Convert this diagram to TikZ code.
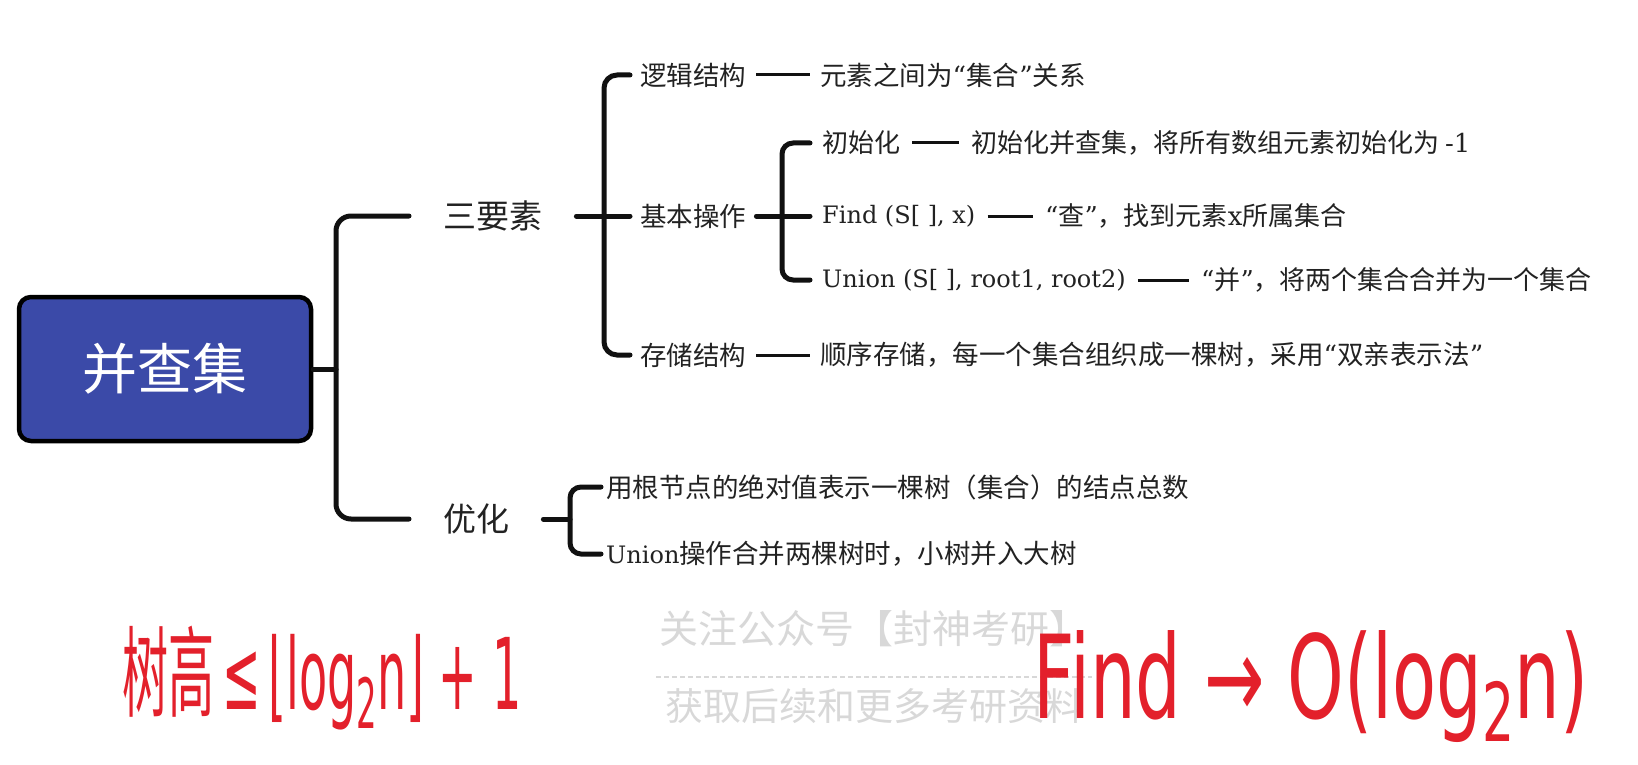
\documentclass[tikz,border=0pt]{standalone}
\usepackage{fontspec}
\setmainfont{Noto Sans CJK SC}
\newfontfamily\cjk{Noto Sans CJK SC}
\newfontfamily\lat{DejaVu Serif}
\newfontfamily\sym{DejaVu Sans}
\newcommand{\myLQ}{{\lat “}}
\newcommand{\myRQ}{{\lat ”}}
\definecolor{rootblue}{HTML}{3B4AA8}
\definecolor{txt}{HTML}{222222}
\definecolor{ln}{HTML}{111111}
\definecolor{hand}{HTML}{E3202B}
\definecolor{wm}{HTML}{D8D8D8}
\tikzset{
  br/.style={line width=5pt, draw=ln, line cap=round},
  tie/.style={line width=3pt, draw=ln},
  rootbox/.style={rectangle, rounded corners=12pt, fill=rootblue, draw=black, line width=4.5pt,
    minimum width=292pt, minimum height=144pt, text=white, font=\fontsize{55}{60}\selectfont},
  lvA/.style={anchor=west, inner xsep=34pt, inner ysep=2pt, text=txt, font=\fontsize{33}{36}\selectfont},
  lvB/.style={anchor=west, inner xsep=10pt, inner ysep=2pt, text=txt, font=\fontsize{26.5}{30}\selectfont},
  lvC/.style={anchor=west, inner xsep=12pt, inner ysep=2pt, text=txt, font=\fontsize{26}{30}\selectfont},
  lvD/.style={anchor=west, inner xsep=5pt, inner ysep=2pt, text=txt, font=\fontsize{26.5}{30}\selectfont},
  hw/.style={inner sep=0pt, text=hand},
  wmtext/.style={inner sep=0pt, text=wm, font=\fontsize{39}{42}\selectfont}
}
\begin{document}
\begin{tikzpicture}[x=1pt,y=-1pt]
\useasboundingbox (0,0) rectangle (1638,765);

% watermark
\node[wmtext] (wm1) at (874,629) {关注公众号【封神考研】};
\coordinate (wmL) at (656,677);
\coordinate (wmR) at (1092,677);
\draw[wm, line width=1.5pt, dash pattern=on 5pt off 3pt] (wmL) -- (wmR);
\node[wmtext, font=\fontsize{38}{42}\selectfont\itshape] (wm2) at (874,706) {获取后续和更多考研资料};

% root
\node[rootbox] (root) at (165,369) {并查集};

% level 1
\node[lvA] (n1) at (409,216) {三要素};
\node[lvA] (n2) at (409,519) {优化};
\coordinate (j1) at (336,369);
\draw[br] (root.east) -- (j1);
\draw[br, rounded corners=15pt] (n1.west) -| (j1) |- (n2.west);

% level 2
\node[lvB] (m1) at (630,75) {逻辑结构};
\node[lvB] (m2) at (630,216) {基本操作};
\node[lvB] (m3) at (630,355) {存储结构};
\coordinate (j2) at (604,216);
\draw[br] (n1.east) -- (j2);
\draw[br, rounded corners=13pt] (m1.west) -| (j2) |- (m3.west);
\draw[br] (j2) -- (m2.west);

\node[lvB] (m1l) at (810,75) {元素之间为\myLQ 集合\myRQ 关系};
\draw[tie] (m1.east) -- (m1l.west);
\node[lvB] (m3l) at (810,355) {顺序存储，每一个集合组织成一棵树，采用\myLQ 双亲表示法\myRQ};
\draw[tie] (m3.east) -- (m3l.west);

% level 3
\node[lvC] (k1) at (810,143) {初始化};
\node[lvC, font=\lat\fontsize{24}{28}\selectfont] (k2) at (810,216) {Find (S[ ], x)};
\node[lvC, font=\lat\fontsize{24}{28}\selectfont] (k3) at (810,280) {Union (S[ ], root1, root2)};
\coordinate (j3) at (782,216);
\draw[br] (m2.east) -- (j3);
\draw[br, rounded corners=11pt] (k1.west) -| (j3) |- (k3.west);
\draw[br] (j3) -- (k2.west);

\node[lvC] (k1l) at (959,143) {初始化并查集，将所有数组元素初始化为 {\lat -1}};
\draw[tie] (k1.east) -- (k1l.west);
\node[lvC] (k2l) at (1033,216) {\myLQ 查\myRQ ，找到元素{\lat x}所属集合};
\draw[tie] (k2.east) -- (k2l.west);
\node[lvC] (k3l) at (1189,280) {\myLQ 并\myRQ ，将两个集合合并为一个集合};
\draw[tie] (k3.east) -- (k3l.west);

% optimisation
\node[lvD] (o1) at (601,487) {用根节点的绝对值表示一棵树（集合）的结点总数};
\node[lvD] (o2) at (601,554) {{\lat\fontsize{24}{28}\selectfont Union}操作合并两棵树时，小树并入大树};
\coordinate (j4) at (570,519);
\draw[br] (n2.east) -- (j4);
\draw[br, rounded corners=11pt] (o1.west) -| (j4) |- (o2.west);

% handwriting
\node[hw] (h1) at (322,678) {\resizebox*{399pt}{104pt}{\cjk 树高\,{\sym ≤}\,{\sym ⌊log\raisebox{-0.35ex}{\scriptsize 2}n⌋ + 1}}};
\node[hw] (h2) at (1311,687) {\resizebox*{554pt}{112pt}{\sym Find → O(log\raisebox{-0.35ex}{\scriptsize 2}n)}};
\end{tikzpicture}
\end{document}
